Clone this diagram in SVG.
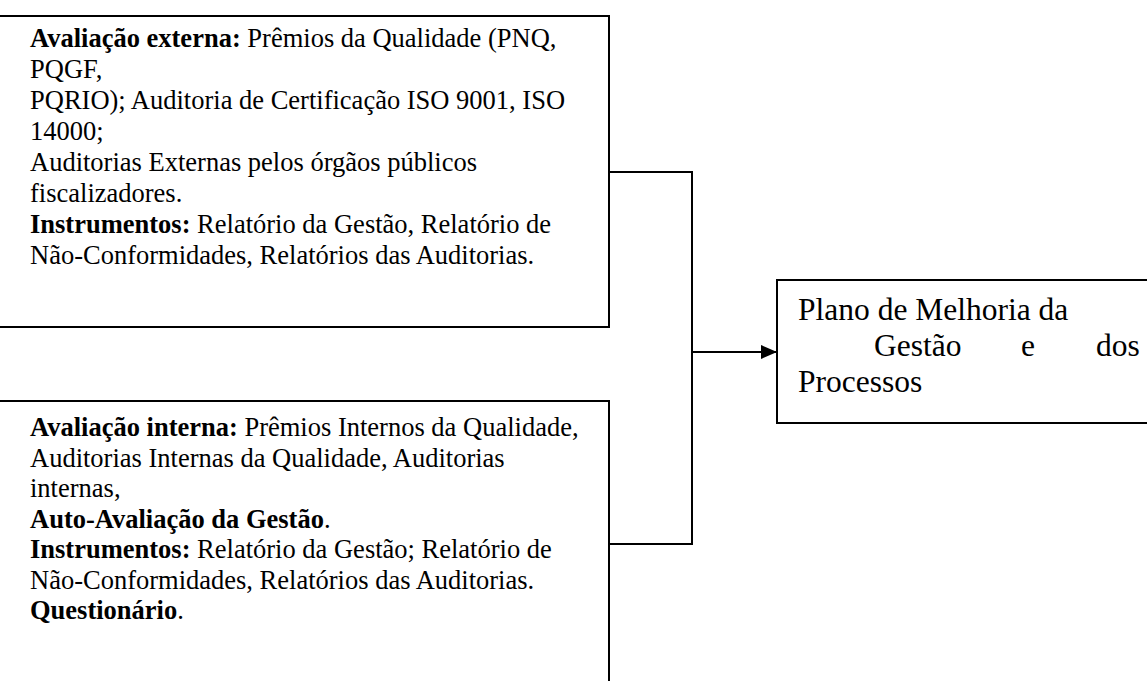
<svg xmlns="http://www.w3.org/2000/svg" width="1147" height="681" viewBox="0 0 1147 681">
<style>
.box{fill:#fff;stroke:#000;stroke-width:2}
.t{font-family:"Liberation Serif","Times New Roman",serif;font-size:26.5px;fill:#000}
.r{font-family:"Liberation Serif","Times New Roman",serif;font-size:31.5px;fill:#000}
.b{font-weight:bold}
.conn{fill:none;stroke:#000;stroke-width:2}
</style>
<defs>
<marker id="ah" markerWidth="16" markerHeight="14" refX="16" refY="7" orient="auto" markerUnits="userSpaceOnUse">
<path d="M0,0 L16,7 L0,14 Z" fill="#000"/>
</marker>
</defs>
<rect width="1147" height="681" fill="#fff"/>
<g id="ext">
<rect class="box" x="-10" y="16" width="619" height="311"/>
<text class="t">
<tspan x="30" y="47"><tspan class="b">Avaliação externa:</tspan> Prêmios da Qualidade (PNQ,</tspan>
<tspan x="30" y="78">PQGF,</tspan>
<tspan x="30" y="109">PQRIO); Auditoria de Certificação ISO 9001, ISO</tspan>
<tspan x="30" y="140">14000;</tspan>
<tspan x="30" y="171">Auditorias Externas pelos órgãos públicos</tspan>
<tspan x="30" y="202">fiscalizadores.</tspan>
<tspan x="30" y="233"><tspan class="b">Instrumentos:</tspan> Relatório da Gestão, Relatório de</tspan>
<tspan x="30" y="264">Não-Conformidades, Relatórios das Auditorias.</tspan>
</text>
</g>
<g id="int">
<rect class="box" x="-10" y="401" width="619" height="300"/>
<text class="t">
<tspan x="30" y="436"><tspan class="b">Avaliação interna:</tspan> Prêmios Internos da Qualidade,</tspan>
<tspan x="30" y="466.5">Auditorias Internas da Qualidade, Auditorias</tspan>
<tspan x="30" y="497">internas,</tspan>
<tspan x="30" y="527.5"><tspan class="b">Auto-Avaliação da Gestão</tspan>.</tspan>
<tspan x="30" y="558"><tspan class="b">Instrumentos:</tspan> Relatório da Gestão; Relatório de</tspan>
<tspan x="30" y="588.5">Não-Conformidades, Relatórios das Auditorias.</tspan>
<tspan x="30" y="619"><tspan class="b">Questionário</tspan>.</tspan>
</text>
</g>
<g id="plano">
<rect class="box" x="777" y="280" width="390" height="143"/>
<text class="r">
<tspan x="798" y="320">Plano de Melhoria da</tspan>
<tspan x="874" y="356">Gestão</tspan>
<tspan x="1021" y="356">e</tspan>
<tspan x="1096" y="356">dos</tspan>
<tspan x="798" y="392">Processos</tspan>
</text>
</g>
<g id="connectors">
<path class="conn" d="M609,172 H692 V544 H609"/>
<path class="conn" d="M692,352 H777" marker-end="url(#ah)"/>
</g>
</svg>
